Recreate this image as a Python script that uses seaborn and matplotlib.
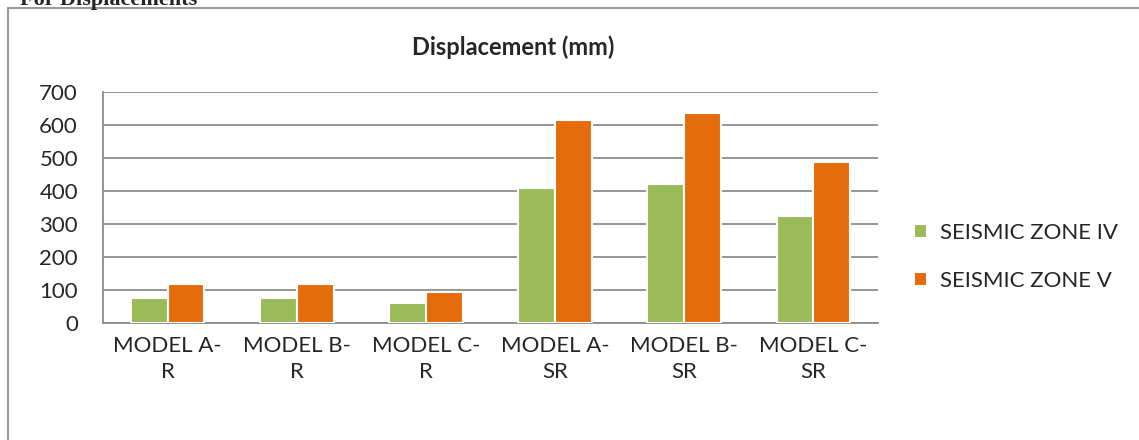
import numpy as np
import matplotlib.pyplot as plt
import matplotlib.lines as mlines
import seaborn as sns
import pandas as pd

models = ["MODEL A-\nR", "MODEL B-\nR", "MODEL C-\nR", "MODEL A-\nSR", "MODEL B-\nSR", "MODEL C-\nSR"]
zone_iv = [77, 77, 62, 408, 422, 324]
zone_v = [117, 117, 95, 615, 637, 489]
series = ["SEISMIC ZONE IV", "SEISMIC ZONE V"]
yticks = [0, 100, 200, 300, 400, 500, 600, 700]

df = pd.DataFrame({
    "model": models * 2,
    "disp": zone_iv + zone_v,
    "zone": [series[0]] * len(models) + [series[1]] * len(models),
})

sns.set_style("white")
plt.rcParams["font.family"] = ["Lato", "DejaVu Sans"]

fig = plt.figure(figsize=(11.39, 4.4), dpi=100)
ax = fig.add_axes([103 / 1139, 1 - 323 / 440, 775 / 1139, 231 / 440])

sns.barplot(
    data=df, x="model", y="disp", hue="zone", order=models,
    palette=["#9bbb59", "#e46c0a"], width=0.57, edgecolor="white",
    linewidth=1.5, saturation=1, ax=ax, zorder=3,
)

ax.set_ylim(0, 700)
ax.set_yticks(yticks)
ax.yaxis.grid(True, color="#8c8c8c", linewidth=1.3)
ax.set_axisbelow(True)
ax.set_xlabel("")
ax.set_ylabel("")
ax.tick_params(axis="both", labelsize=16, length=0)
ax.tick_params(axis="y", pad=18)
ax.tick_params(axis="x", pad=9)
for lab in ax.get_xticklabels():
    lab.set_linespacing(1.4)
for s in ["top", "right"]:
    ax.spines[s].set_visible(False)
for s in ["left", "bottom"]:
    ax.spines[s].set_color("#8c8c8c")
    ax.spines[s].set_linewidth(1.3)

handles, labels = ax.get_legend_handles_labels()
ax.legend(
    handles=handles, labels=labels, loc="center left",
    bbox_to_anchor=(1.02, 0.285), frameon=False, fontsize=16,
    handlelength=0.6, handleheight=0.6, handletextpad=0.6, labelspacing=1.25,
)

fig.text(513 / 1139, 1 - 47 / 440, "Displacement (mm)", ha="center", va="center",
         fontsize=17, fontweight="bold")
fig.text(20 / 1139, 1 - 5 / 440, "For Displacements", ha="left", va="baseline",
         fontsize=16, fontweight="bold", family=["Liberation Serif", "DejaVu Serif"])

# outer frame
fig.add_artist(mlines.Line2D([8 / 1139, 8 / 1139], [0, 1 - 8 / 440],
                             color="#999999", linewidth=1.5))
fig.add_artist(mlines.Line2D([8 / 1139, 1], [1 - 8 / 440, 1 - 8 / 440],
                             color="#999999", linewidth=1.5))

fig.savefig("out.png", dpi=100)
